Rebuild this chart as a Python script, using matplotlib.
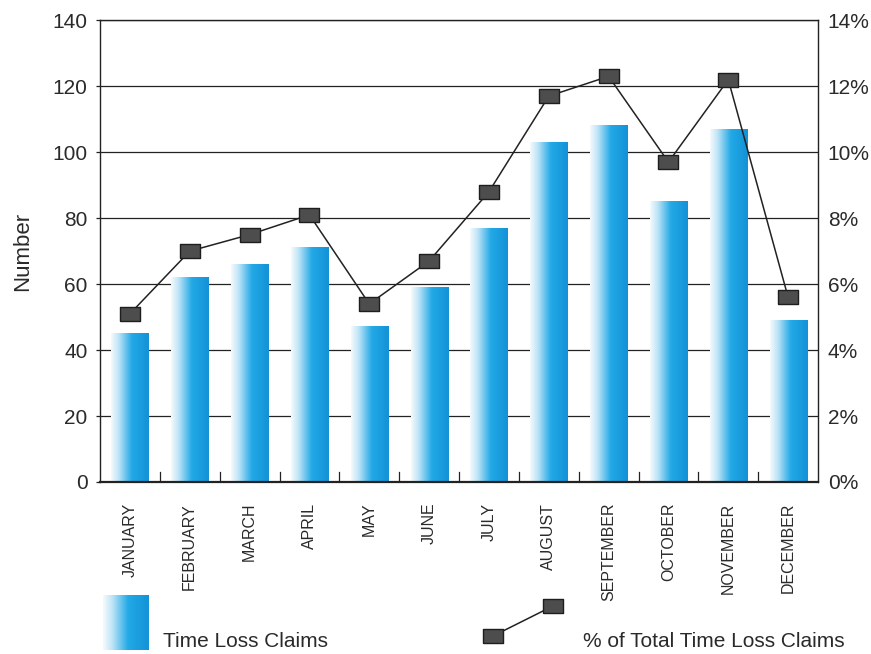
import numpy as np
import matplotlib
matplotlib.use("Agg")
import matplotlib.pyplot as plt
from matplotlib.colors import LinearSegmentedColormap
from matplotlib.ticker import FuncFormatter

months = ["JANUARY", "FEBRUARY", "MARCH", "APRIL", "MAY", "JUNE", "JULY",
          "AUGUST", "SEPTEMBER", "OCTOBER", "NOVEMBER", "DECEMBER"]
claims = [45, 62, 66, 71, 47, 59, 77, 103, 108, 85, 107, 49]
pct_of_total = [5.1, 7.0, 7.5, 8.1, 5.4, 6.7, 8.8, 11.7, 12.3, 9.7, 12.2, 5.6]

plt.rcParams["font.family"] = ["Liberation Sans", "DejaVu Sans"]
text_col = "#2a2a2a"

bar_cmap = LinearSegmentedColormap.from_list(
    "bar_fade", [(0.0, "#f6fbfe"), (0.2, "#bfe4f7"), (0.55, "#22a9e6"), (1.0, "#1492d7")])
gradient = np.linspace(0, 1, 256).reshape(1, -1)

# rectangular marker, wider than tall
box = [(-1, -0.7), (1, -0.7), (1, 0.7), (-1, 0.7), (-1, -0.7)]

fig = plt.figure(figsize=(8.71, 6.54), dpi=100)
ax = fig.add_axes([0.1148, 0.263, 0.8244, 0.706])

x = np.arange(len(months))
bar_w = 0.62
for xi, h in zip(x, claims):
    ax.imshow(gradient, cmap=bar_cmap, aspect="auto", interpolation="bicubic",
              extent=[xi - bar_w / 2, xi + bar_w / 2, 0, h], zorder=2)

ax.set_xlim(-0.5, len(months) - 0.5)
ax.set_ylim(0, 140)
ax.set_yticks(range(0, 141, 20))
ax.yaxis.grid(True, color="#222222", linewidth=0.9, zorder=0)
ax.set_axisbelow(True)
ax.tick_params(axis="y", length=3, width=0.9, color="#222222", labelsize=15,
               labelcolor=text_col, pad=6)
ax.set_ylabel("Number", fontsize=16, color=text_col, labelpad=14)

# month labels under each bar, separators between categories
ax.set_xticks(x)
ax.set_xticklabels(months, rotation=90, fontsize=11.5, va="top", ha="center",
                   color=text_col)
ax.tick_params(axis="x", length=0, pad=15)
for xs in x[:-1] + 0.5:
    ax.plot([xs, xs], [0, 3], color="#222222", linewidth=0.9, zorder=3)
for side in ["left", "right", "top", "bottom"]:
    ax.spines[side].set_color("#222222")
    ax.spines[side].set_linewidth(1.0)
ax.spines["bottom"].set_linewidth(1.6)

ax2 = ax.twinx()
ax2.set_ylim(0, 14)
ax2.set_yticks(range(0, 15, 2))
ax2.yaxis.set_major_formatter(FuncFormatter(lambda v, p: f"{v:.0f}%"))
ax2.tick_params(axis="y", length=0, labelsize=15, labelcolor=text_col, pad=7)
ax2.plot(x, pct_of_total, color="#222222", linewidth=1.1, marker=box,
         markersize=15, markerfacecolor="#4d4d4d", markeredgecolor="#1e1e1e",
         markeredgewidth=1.0, zorder=4)
for side in ["left", "right", "top", "bottom"]:
    ax2.spines[side].set_visible(False)

# legend drawn below the plot
sw = fig.add_axes([103 / 871, 1 - 650 / 654, 45 / 871, 55 / 654])
sw.imshow(gradient, cmap=bar_cmap, aspect="auto", interpolation="bicubic")
sw.axis("off")
fig.text(163 / 871, 1 - 647 / 654, "Time Loss Claims", fontsize=15,
         color=text_col, va="baseline")

lg = fig.add_axes([480 / 871, 1 - 650 / 654, 90 / 871, 60 / 654])
lg.set_xlim(0, 90)
lg.set_ylim(0, 60)
lg.plot([13, 73], [14, 44], color="#222222", linewidth=1.1, marker=box,
        markersize=15, markerfacecolor="#4d4d4d", markeredgecolor="#1e1e1e",
        markeredgewidth=1.0)
lg.axis("off")
fig.text(583 / 871, 1 - 647 / 654, "% of Total Time Loss Claims", fontsize=15,
         color=text_col, va="baseline")

fig.savefig("out.png", dpi=100)
